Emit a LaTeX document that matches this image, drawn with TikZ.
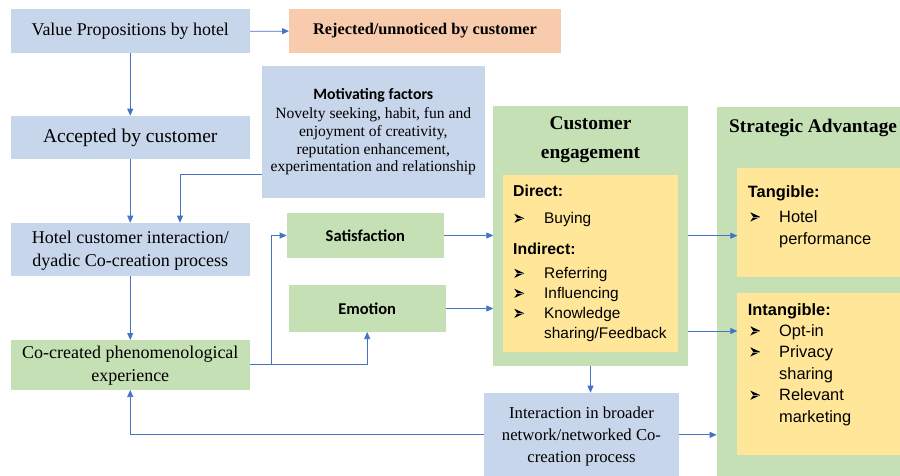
\documentclass[tikz,border=0pt]{standalone}
\usepackage{fontspec}
\usetikzlibrary{arrows.meta}
\newfontfamily\fTimes{Liberation Serif}
\newfontfamily\fArial{Liberation Sans}
\newfontfamily\fCalibri{Carlito}
\definecolor{boxblue}{HTML}{C8D6EC}
\definecolor{boxgreen}{HTML}{C5E0B4}
\definecolor{boxyellow}{HTML}{FFE699}
\definecolor{boxpeach}{HTML}{F8CBAD}
\definecolor{linkblue}{HTML}{4472C4}
\tikzset{
  panel/.style={fill=#1, draw=none, inner sep=0pt, outer sep=0pt},
  arr/.style={draw=linkblue, line width=0.75pt, -{Triangle[length=7pt,width=6pt]}},
  serifbig/.style={font=\fTimes\fontsize{18}{23}\selectfont, align=center},
  listtxt/.style={anchor=base west, inner sep=0pt, font=\fArial\fontsize{15.4}{20}\selectfont},
  listhead/.style={anchor=base west, inner sep=0pt, font=\fArial\bfseries\fontsize{15.8}{20}\selectfont},
  rlisttxt/.style={anchor=base west, inner sep=0pt, font=\fArial\fontsize{16.4}{21}\selectfont},
  rlisthead/.style={anchor=base west, inner sep=0pt, font=\fArial\bfseries\fontsize{16.4}{21}\selectfont},
  % arrowhead list marker, drawn from its left middle point
  listarrow/.pic={
    \fill[black] (0,-4.6) -- (10,0) -- (0,4.6) -- (3,0) -- cycle;
    \draw[white!55!black, line width=0.5pt] (3,0) -- (9,0);
  },
}
\begin{document}
\begin{tikzpicture}[x=1pt, y=-1pt]
\useasboundingbox (0,0) rectangle (900,475);

% ---- boxes ----
\node[panel=boxblue, minimum width=239.5pt, minimum height=44pt] (val) at (130.25,31.3) {};
\node[font=\fTimes\fontsize{17.9}{22}\selectfont] (valt) at (val) {Value Propositions by hotel};

\node[panel=boxpeach, minimum width=272pt, minimum height=43.4pt] (rej) at (425,31) {};
\node[font=\fTimes\bfseries\fontsize{16.3}{20}\selectfont] (rejt) at (rej) {Rejected/unnoticed by customer};

\node[panel=boxblue, minimum width=239.5pt, minimum height=43.6pt] (acc) at (130.25,137.5) {};
\node[font=\fTimes\fontsize{19.5}{24}\selectfont] (acct) at (acc) {Accepted by customer};

\node[panel=boxblue, minimum width=223.5pt, minimum height=132.3pt] (mot) at (373.25,132.15) {};
\node[align=center, font=\fTimes\fontsize{15.6}{17.6}\selectfont] (mott) at (373.25,131.5)
  {{\fCalibri\bfseries\fontsize{15.8}{17.6}\selectfont Motivating factors}\\[2.2pt]
   Novelty seeking, habit, fun and\\
   enjoyment of creativity,\\
   reputation enhancement,\\
   experimentation and relationship};

\node[panel=boxblue, minimum width=239.5pt, minimum height=53.3pt] (hci) at (130.25,249.35) {};
\node[serifbig] (hcit) at (130.25,250.5) {Hotel customer interaction/\\dyadic Co-creation process};

\node[panel=boxgreen, minimum width=239.5pt, minimum height=50pt] (ccp) at (130.25,365) {};
\node[serifbig] (ccpt) at (130.25,365.3) {Co-created phenomenological\\experience};

\node[panel=boxgreen, minimum width=157.3pt, minimum height=45pt] (sat) at (365.35,235.5) {};
\node[font=\fCalibri\bfseries\fontsize{16.5}{20}\selectfont] (satt) at (sat) {Satisfaction};

\node[panel=boxgreen, minimum width=157pt, minimum height=47pt] (emo) at (367.2,308.5) {};
\node[font=\fCalibri\bfseries\fontsize{16.5}{20}\selectfont] (emot) at (emo) {Emotion};

% customer engagement
\node[panel=boxgreen, minimum width=194.4pt, minimum height=259.7pt] (ce) at (590.5,235.85) {};
\node[align=center, font=\fTimes\bfseries\fontsize{19.4}{29}\selectfont] (cet) at (590.5,139.3) {Customer\\engagement};
\node[panel=boxyellow, minimum width=175.6pt, minimum height=177.3pt] (cey) at (590.5,263.65) {};
\node[listhead] (dir) at (513,196.5) {Direct:};
\pic at (514.3,218.3) {listarrow};
\node[listtxt] (buy) at (544,223.5) {Buying};
\node[listhead] (ind) at (513,254.8) {Indirect:};
\pic at (514.3,273.3) {listarrow};
\node[listtxt] (ref) at (544,278.8) {Referring};
\pic at (514.3,293.3) {listarrow};
\node[listtxt] (inf) at (544,298.8) {Influencing};
\pic at (514.3,313.3) {listarrow};
\node[listtxt] (knw) at (544,318.8) {Knowledge};
\node[listtxt] (shf) at (544,338.8) {sharing/Feedback};

% broader network interaction
\node[panel=boxblue, minimum width=195pt, minimum height=84.3pt] (ibn) at (581.5,434.85) {};
\node[align=center, font=\fTimes\fontsize{16.7}{22}\selectfont] (ibnt) at (581.5,436.3)
  {Interaction in broader\\network/networked Co-\\creation process};

% strategic advantage
\node[panel=boxgreen, minimum width=193.3pt, minimum height=373.3pt] (sa) at (813.35,293.35) {};
\node[font=\fTimes\bfseries\fontsize{19.3}{24}\selectfont, anchor=west, inner sep=0pt] (sat2) at (729,128) {Strategic Advantage};
\node[panel=boxyellow, minimum width=172.7pt, minimum height=108.4pt] (tan) at (823.65,222.5) {};
\node[rlisthead] (tant) at (747.7,197.6) {Tangible:};
\pic at (750.3,216.9) {listarrow};
\node[rlisttxt] (hot) at (779,222.6) {Hotel};
\node[rlisttxt] (perf) at (779,244.2) {performance};
\node[panel=boxyellow, minimum width=172.7pt, minimum height=162.3pt] (intan) at (823.65,373.85) {};
\node[rlisthead] (intt) at (747.7,315.2) {Intangible:};
\pic at (750.3,330.9) {listarrow};
\node[rlisttxt] (opt) at (779,336.6) {Opt-in};
\pic at (750.3,351.9) {listarrow};
\node[rlisttxt] (pri) at (779,357.6) {Privacy};
\node[rlisttxt] (shr) at (779,379.9) {sharing};
\pic at (750.3,395.2) {listarrow};
\node[rlisttxt] (rel) at (779,400.9) {Relevant};
\node[rlisttxt] (mkt) at (779,422.6) {marketing};

% ---- connectors ----
\coordinate (mj) at (180,174);
\coordinate (sj) at (271.7,364.3);
\coordinate (tj) at (700,235.7);
\coordinate (ij) at (700,331);

\draw[arr] (val) -- (rej);
\draw[arr] (val) -- (acc);
\draw[arr] (acc) -- (hci);
\draw[arr] (mot.west |- mj) -| (mj |- hci.north);
\draw[arr] (hci) -- (ccp);
\draw[arr] (ccp.east |- sj) -- (sj) |- (sat.west);
\draw[arr] (ccp.east |- sj) -| (emo.south);
\draw[arr] (sat.east) -- (sat.east -| ce.west);
\draw[arr] (emo.east) -- (emo.east -| ce.west);
\draw[arr] (ce.east |- tj) -- (tan.west |- tj);
\draw[arr] (ce.east |- ij) -- (intan.west |- ij);
\draw[arr] (ce.south) -- (ce.south |- ibn.north);
\draw[arr] (ibn.west) -| (ccp.south);
\draw[arr] (ibn.east) -- (ibn.east -| sa.west);
\end{tikzpicture}
\end{document}
